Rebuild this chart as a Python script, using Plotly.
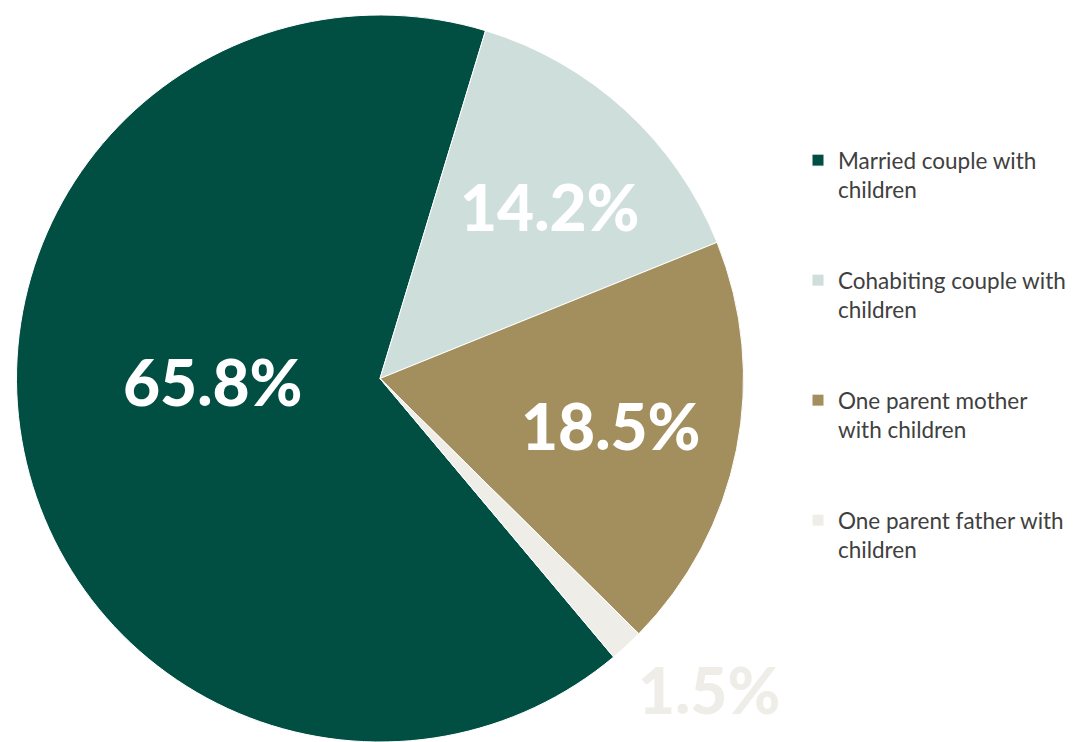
import math
import plotly.graph_objects as go

# Family types with children (share of families, %)
legend_names = [
    "Married couple with<br>children",
    "Cohabiting couple with<br>children",
    "One parent mother<br>with children",
    "One parent father with<br>children",
]
values = [65.8, 14.2, 18.5, 1.5]
colors = ["#014e43", "#cddedb", "#a38f5e", "#efede8"]
label_colors = ["#ffffff", "#ffffff", "#ffffff", "#efede8"]

W, H = 1084, 742
CX, CY, R = 380, 379, 364        # pie centre / radius in pixels
START = 140                      # first slice starts 140 deg clockwise from 12 o'clock
LABEL_R = [0.46, 0.666, 0.647, 1.242]   # label distance from centre (fraction of radius)
LABEL_DA = [10.6, 2.1, 0.1, -4.0]       # angular nudge of each label off the bisector (deg)

# Pad legend entries with blank lines so the items are spread out
legend_text = [n + "<br> <br> " for n in legend_names]

fig = go.Figure(
    go.Pie(
        labels=legend_text,
        values=values,
        sort=False,
        direction="clockwise",
        rotation=START,
        marker=dict(colors=colors, line=dict(color="#ffffff", width=1)),
        textinfo="none",
        hoverinfo="label+percent",
        domain=dict(x=[(CX - R) / W, (CX + R) / W], y=[0, (H - CY + R) / H]),
    )
)

# Percentage labels placed around each slice's bisector
total = sum(values)
acc = 0.0
for v, col, fr, da in zip(values, label_colors, LABEL_R, LABEL_DA):
    mid = math.radians(START + (acc + v / 2) / total * 360 + da)
    acc += v
    px = CX + fr * R * math.sin(mid)
    py = CY - fr * R * math.cos(mid)
    fig.add_annotation(
        x=px / W, y=1 - py / H, xref="paper", yref="paper",
        text=f"{v:.1f}%", showarrow=False,
        font=dict(family="Lato", size=64, color=col, weight=900),
        xanchor="center", yanchor="middle",
    )

fig.update_layout(
    width=W, height=H,
    margin=dict(l=0, r=0, t=0, b=0),
    paper_bgcolor="#ffffff",
    plot_bgcolor="#ffffff",
    font=dict(family="Lato", color="#404040"),
    legend=dict(
        x=798 / W, xanchor="left",
        y=1 - 139 / H, yanchor="top",
        valign="top",
        font=dict(family="Lato", size=22.5, color="#404040"),
        bgcolor="rgba(0,0,0,0)",
        itemclick=False, itemdoubleclick=False,
    ),
    showlegend=True,
)

fig.write_html("out.html")
